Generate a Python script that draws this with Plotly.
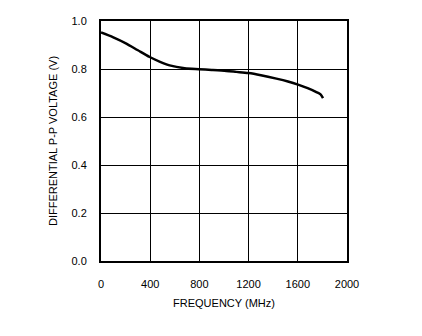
import plotly.graph_objects as go

freq_mhz = [0, 100, 206, 300, 396, 480, 558, 680, 797, 900, 1019, 1100, 1198, 1300, 1426, 1520, 1602, 1680, 1751, 1785, 1805]
voltage_v = [0.952, 0.932, 0.906, 0.878, 0.850, 0.830, 0.815, 0.803, 0.799, 0.796, 0.792, 0.788, 0.783, 0.774, 0.760, 0.748, 0.735, 0.720, 0.704, 0.694, 0.679]

x_ticks = [0, 400, 800, 1200, 1600, 2000]
y_ticks = [0.0, 0.2, 0.4, 0.6, 0.8, 1.0]

fig = go.Figure()
fig.add_trace(go.Scatter(x=freq_mhz, y=voltage_v, mode="lines",
                         line=dict(color="black", width=2.5, shape="spline", smoothing=0.8),
                         showlegend=False))

font = dict(family="Liberation Sans, Arial, sans-serif", size=11, color="black")
fig.update_layout(
    width=422, height=336,
    margin=dict(l=101, r=75, t=21, b=75),
    paper_bgcolor="white", plot_bgcolor="white",
    font=font,
    xaxis=dict(range=[0, 2000], tickvals=x_ticks, ticktext=[str(v) for v in x_ticks],
               showgrid=True, gridcolor="black", gridwidth=1,
               showline=True, linecolor="black", linewidth=2, mirror=True,
               zeroline=False, ticks="", ticklabelstandoff=12,
               title=dict(text="FREQUENCY (MHz)", standoff=10, font=font)),
    yaxis=dict(range=[0, 1.0], tickvals=y_ticks, ticktext=[f"{v:.1f}" for v in y_ticks],
               showgrid=True, gridcolor="black", gridwidth=1,
               showline=True, linecolor="black", linewidth=2, mirror=True,
               zeroline=False, ticks="", ticklabelstandoff=10,
               title=dict(text="DIFFERENTIAL P-P VOLTAGE (V)", standoff=12, font=font)),
)

fig.write_html("out.html")
